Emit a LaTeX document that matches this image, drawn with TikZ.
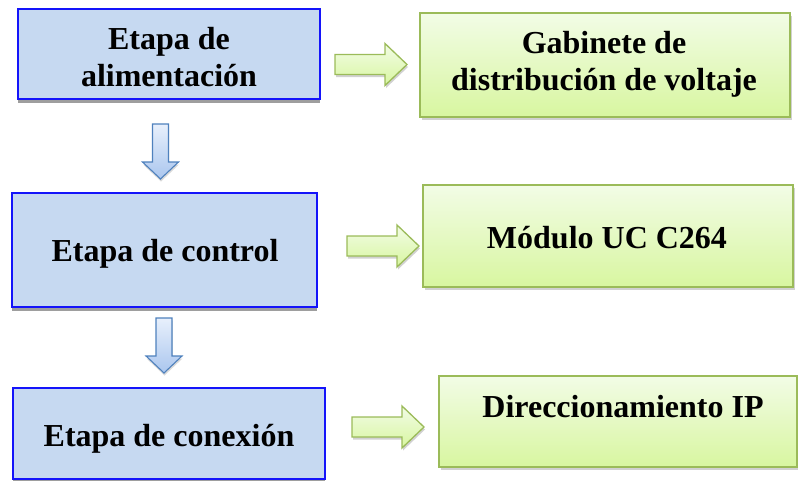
\documentclass[tikz,border=0pt]{standalone}
\usepackage{fontspec}
\setmainfont{Liberation Serif}
\usetikzlibrary{shadows}
\definecolor{bluefill}{RGB}{198,217,241}
\definecolor{blueedge}{RGB}{20,20,250}
\definecolor{greenedge}{RGB}{155,187,89}
\definecolor{greentop}{RGB}{242,252,230}
\definecolor{greenbot}{RGB}{216,246,160}
\definecolor{arrowblue}{RGB}{79,129,189}
\definecolor{arrowtop}{RGB}{232,240,252}
\definecolor{arrowbot}{RGB}{170,198,238}
\tikzset{
  bluebox/.style={draw=blueedge, line width=1.5pt, fill=bluefill,
    drop shadow={shadow xshift=0pt, shadow yshift=-4pt, fill=black!38, opacity=1}},
  greenbox/.style={draw=greenedge, line width=1.5pt, top color=greentop, bottom color=greenbot,
    drop shadow={shadow xshift=1.5pt, shadow yshift=-3pt, fill=black, opacity=0.18}},
  lbl/.style={font=\fontsize{32}{37}\selectfont\bfseries, inner sep=0pt, anchor=base},
  rarrow/.pic={
    \draw[draw=greenedge, line width=1.3pt, top color=greentop, bottom color=greenbot,
      drop shadow={shadow xshift=1pt, shadow yshift=-2.5pt, fill=black, opacity=0.18}]
      (0,-10) -- (50,-10) -- (50,-21) -- (72,0) -- (50,21) -- (50,10) -- (0,10) -- cycle;
  },
  darrow/.pic={
    \draw[draw=arrowblue, line width=1.1pt, top color=arrowtop, bottom color=arrowbot,
      drop shadow={shadow xshift=0.5pt, shadow yshift=-2.5pt, fill=black, opacity=0.15}]
      (-8,0) -- (8,0) -- (8,38) -- (18,38) -- (0,55) -- (-18,38) -- (-8,38) -- cycle;
  }
}
\begin{document}
\begin{tikzpicture}[x=1pt, y=-1pt]
\useasboundingbox (0,0) rectangle (798,480);
% left column
\path[bluebox] (18,9) rectangle (320,99) node[pos=0.5] (b1) {};
\path[bluebox] (12,193) rectangle (317,307) node[pos=0.5] (b2) {};
\path[bluebox] (13,388) rectangle (325,479) node[pos=0.5] (b3) {};
% right column
\path[greenbox] (420,13) rectangle (790,117) node[pos=0.5] (g1) {};
\path[greenbox] (423,185) rectangle (793,287) node[pos=0.5] (g2) {};
\path[greenbox] (439,376) rectangle (797,467) node[pos=0.5] (g3) {};
% arrows
\pic (a1) at (335,64.5) {rarrow};
\pic (a2) at (347,246) {rarrow};
\pic (a3) at (352,427) {rarrow};
\pic (d1) at (160.5,124) {darrow};
\pic (d2) at (164,318) {darrow};
% labels
\node[lbl] (t1a) at (169,49) {Etapa de};
\node[lbl] (t1b) at (169,86) {alimentación};
\node[lbl] (t2) at (165,261) {Etapa de control};
\node[lbl] (t3) at (169,446) {Etapa de conexión};
\node[lbl] (u1a) at (604,53) {Gabinete de};
\node[lbl] (u1b) at (604,90) {distribución de voltaje};
\node[lbl] (u2) at (607,248) {Módulo UC C264};
\node[lbl] (u3) at (623,417) {Direccionamiento IP};
\end{tikzpicture}
\end{document}
